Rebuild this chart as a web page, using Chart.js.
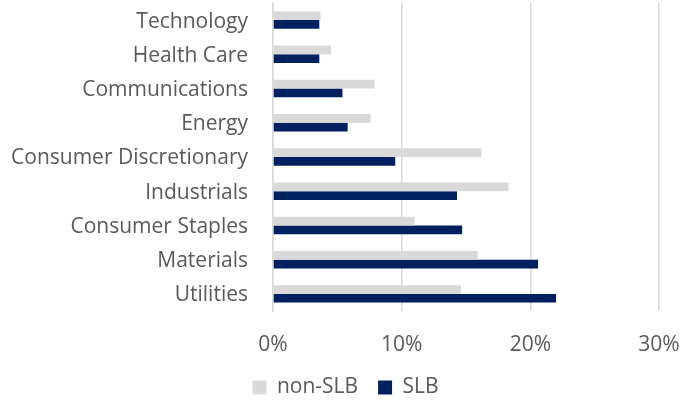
<!DOCTYPE html>
<html>
<head>
<meta charset="utf-8">
<script src="https://cdn.jsdelivr.net/npm/chart.js@4"></script>
<style>
  html, body { margin: 0; padding: 0; background: #fff; }
  #wrap { width: 685px; height: 402px; position: relative; }
</style>
</head>
<body>
<div id="wrap"><canvas id="chart1"></canvas></div>
<script>
// 업종 (위에서 아래 순서)
const sectors = ['Technology', 'Health Care', 'Communications', 'Energy', 'Consumer Discretionary',
                 'Industrials', 'Consumer Staples', 'Materials', 'Utilities'];
const nonSlb = [3.7, 4.5, 7.9, 7.6, 16.2, 18.3, 11.0, 15.9, 14.6];
const slb = [3.6, 3.6, 5.4, 5.8, 9.5, 14.3, 14.7, 20.6, 22.0];
const xTicks = [0, 10, 20, 30];

const textCl = '#595959';
const fontSet = { family: 'Open Sans', size: 21 };

// 범례 위치 조금 오른쪽으로 이동
const legendShift = {
    id: 'legendShift',
    afterLayout(chart) {
        chart.legend.left += 16;
        chart.legend.right += 16;
    }
};

const ctx = document.getElementById('chart1').getContext('2d');
const chart1 = new Chart(ctx, {
    type: 'bar',
    data: {
        labels: sectors,
        datasets: [
            {
                label: 'non-SLB',
                data: nonSlb,
                backgroundColor: '#d9d9d9',
                categoryPercentage: 0.51,
                barPercentage: 1.0
            },
            {
                label: 'SLB',
                data: slb,
                backgroundColor: '#002060',
                categoryPercentage: 0.51,
                barPercentage: 1.0
            }
        ]
    },
    options: {
        indexAxis: 'y',
        responsive: true,
        maintainAspectRatio: false,
        animation: false,
        layout: {
            // 아래쪽 음수 패딩: 범례를 캔버스 끝까지 붙이기
            padding: { top: 3, right: 26, left: 0, bottom: -6 }
        },
        scales: {
            x: {
                min: 0,
                max: 30,
                afterBuildTicks: (scale) => {
                    scale.ticks = xTicks.map(v => ({ value: v }));
                },
                afterFit: (scale) => {
                    scale.height = 46;
                    scale.paddingLeft = 0;
                    scale.paddingRight = 0;
                },
                grid: { color: '#d9d9d9', lineWidth: 1.5, drawTicks: false },
                border: { display: false },
                ticks: {
                    color: textCl,
                    font: fontSet,
                    padding: 21,
                    callback: (v) => v + '%'
                }
            },
            y: {
                afterFit: (scale) => {
                    scale.width = 273;
                    scale.paddingTop = 0;
                    scale.paddingBottom = 0;
                },
                grid: { display: false, drawTicks: false },
                border: { display: true, color: '#d9d9d9', width: 1.5 },
                ticks: {
                    color: textCl,
                    font: fontSet,
                    padding: 25,
                    labelOffset: 1.5,
                    autoSkip: false
                }
            }
        },
        plugins: {
            legend: {
                display: true,
                position: 'bottom',
                align: 'center',
                labels: {
                    boxWidth: 14,
                    boxHeight: 14,
                    color: textCl,
                    padding: 20,
                    font: fontSet
                }
            },
            tooltip: { enabled: false }
        }
    },
    plugins: [legendShift]
});
</script>
</body>
</html>
